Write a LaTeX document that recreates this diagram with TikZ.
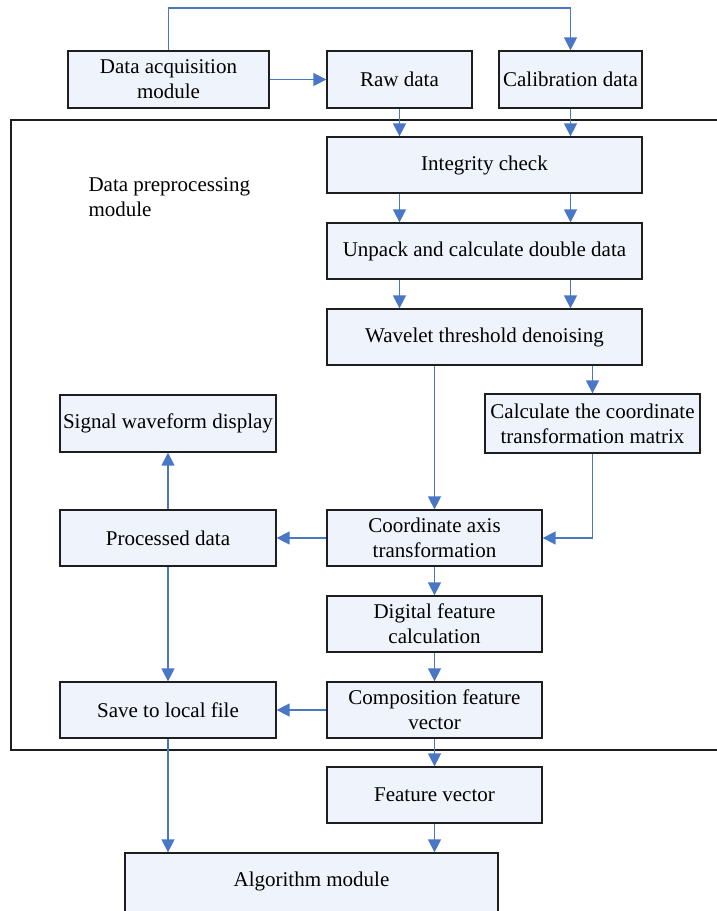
\documentclass[tikz,border=0pt]{standalone}
\usepackage{fontspec}
\setmainfont{Liberation Serif}
\usetikzlibrary{arrows.meta}
\definecolor{boxfill}{HTML}{EFF3FB}
\definecolor{arrowblue}{HTML}{4A76C6}
\definecolor{boxline}{HTML}{1E1E1E}
\begin{document}
\begin{tikzpicture}[x=1pt,y=-1pt,
  box/.style={draw=boxline,fill=boxfill,line width=1.3pt,rectangle,inner sep=1pt,
    align=center,font=\fontsize{21}{25}\selectfont},
  arr/.style={draw=arrowblue,line width=1.5pt,-{Triangle[length=13pt,width=13pt]}}]
\useasboundingbox (0,0) rectangle (717,911);
\fill[white] (0,0) rectangle (717,911);
% frame
\draw[boxline,line width=1.3pt] (11,120) rectangle (730,750);
\node[align=left,anchor=west,font=\fontsize{21}{25}\selectfont] (lbl) at (85,197) {Data preprocessing\\module};
% boxes
\node[box,minimum width=201pt,minimum height=57pt] (acq) at (168.5,79.5) {Data acquisition\\module};
\node[box,minimum width=145pt,minimum height=57pt] (raw) at (399.5,79.5) {Raw data};
\node[box,minimum width=143pt,minimum height=57pt] (cal) at (570.5,79.5) {Calibration data};
\node[box,minimum width=315pt,minimum height=56pt] (integ) at (484.5,165) {Integrity check};
\node[box,minimum width=315pt,minimum height=56pt] (unpack) at (484.5,251) {Unpack and calculate double data};
\node[box,minimum width=315pt,minimum height=56pt] (wave) at (484.5,337) {Wavelet threshold denoising};
\node[box,minimum width=215pt,minimum height=59pt] (calc) at (592.5,423.5) {Calculate the coordinate\\transformation matrix};
\node[box,minimum width=216pt,minimum height=57pt] (sig) at (168,423.5) {Signal waveform display};
\node[box,minimum width=216pt,minimum height=56pt] (proc) at (168,538) {Processed data};
\node[box,minimum width=215pt,minimum height=56pt] (coord) at (434.5,538) {Coordinate axis\\transformation};
\node[box,minimum width=215pt,minimum height=56pt] (digit) at (434.5,624) {Digital feature\\calculation};
\node[box,minimum width=215pt,minimum height=56pt] (comp) at (434.5,710) {Composition feature\\vector};
\node[box,minimum width=216pt,minimum height=56pt] (save) at (168,710) {Save to local file};
\node[box,minimum width=215pt,minimum height=56pt] (feat) at (434.5,795) {Feature vector};
\node[box,minimum width=373pt,minimum height=64pt,text depth=12pt,inner ysep=0pt] (algo) at (311.5,885) {Algorithm module};
% connectors
\coordinate (topturn) at (168.5,8);
\draw[arr] (acq.north) -- (topturn) -| (cal.north);
\draw[arr] (acq.east) -- (raw.west);
\draw[arr] (raw.south) -- (raw.south |- integ.north);
\draw[arr] (cal.south) -- (cal.south |- integ.north);
\draw[arr] (integ.south -| raw.south) -- (unpack.north -| raw.south);
\draw[arr] (integ.south -| cal.south) -- (unpack.north -| cal.south);
\draw[arr] (unpack.south -| raw.south) -- (wave.north -| raw.south);
\draw[arr] (unpack.south -| cal.south) -- (wave.north -| cal.south);
\draw[arr] (wave.south -| coord.north) -- (coord.north);
\draw[arr] (wave.south -| calc.north) -- (calc.north);
\draw[arr] (calc.south) |- (coord.east);
\draw[arr] (coord.west) -- (proc.east);
\draw[arr] (proc.north) -- (sig.south);
\draw[arr] (proc.south) -- (save.north);
\draw[arr] (coord.south) -- (digit.north);
\draw[arr] (digit.south) -- (comp.north);
\draw[arr] (comp.west) -- (save.east);
\draw[arr] (comp.south) -- (feat.north);
\draw[arr] (feat.south) -- (feat.south |- algo.north);
\draw[arr] (save.south) -- (save.south |- algo.north);
\end{tikzpicture}
\end{document}
